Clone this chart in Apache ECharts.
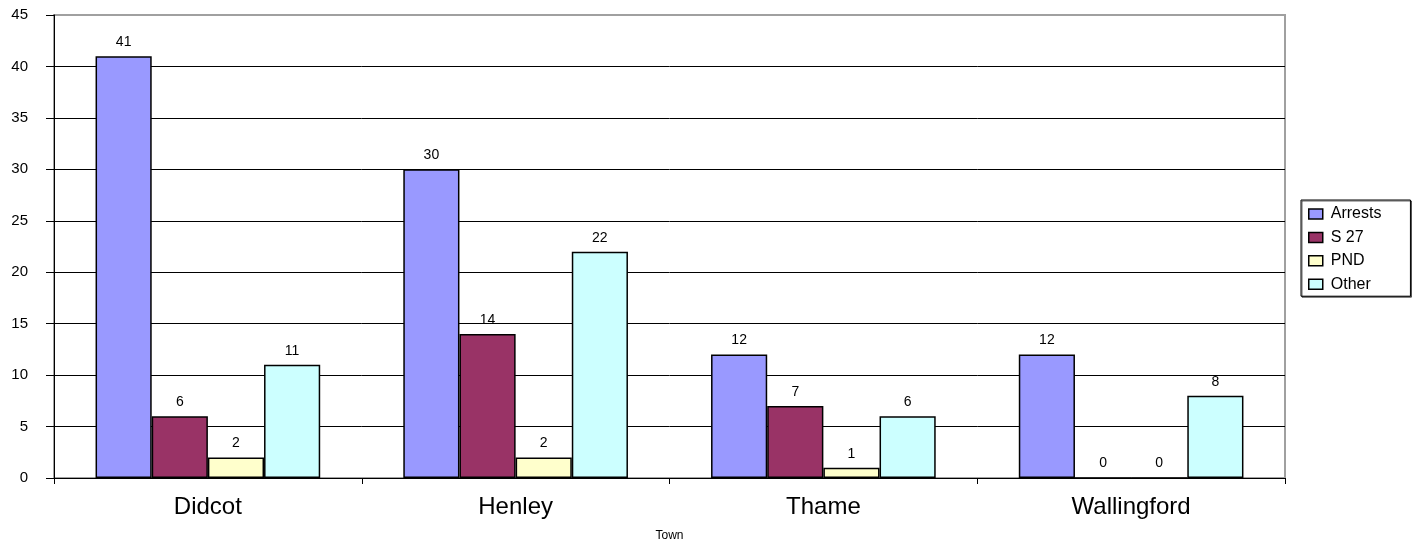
<!DOCTYPE html>
<html><head><meta charset="utf-8">
<script src="https://cdn.jsdelivr.net/npm/echarts@6/dist/echarts.min.js"></script>
<style>html,body{margin:0;padding:0;background:#fff}#c{width:1420px;height:547px}</style>
</head><body><div id="c"></div>
<script>
const categories = ['Didcot', 'Henley', 'Thame', 'Wallingford'];
const arrests = [41, 30, 12, 12];
const s27 = [6, 14, 7, 0];
const pnd = [2, 2, 1, 0];
const other = [11, 22, 6, 8];
const seriesNames = ['Arrests', 'S 27', 'PND', 'Other'];
const yTicks = [0, 5, 10, 15, 20, 25, 30, 35, 40, 45];

const colors = ['#9999FF', '#993366', '#FFFFCC', '#CCFFFF'];
const font = 'Liberation Sans, Arial, sans-serif';
const chart = echarts.init(document.getElementById('c'));
const mk = (name, data, i) => ({
  name, type: 'bar', data,
  barGap: '0%', barCategoryGap: '27%',
  itemStyle: { color: colors[i], borderColor: '#000', borderWidth: 1.5 },
  label: { show: true, position: 'top', distance: 7, color: '#000', fontSize: 14, fontFamily: font },
  animation: false
});
const splitColors = yTicks.map((v, i) => i === yTicks.length - 1 ? '#a0a0a0' : '#000');
chart.setOption({
  animation: false,
  grid: { left: 54, right: 135, top: 15, bottom: 65, show: true, borderColor: '#a0a0a0', borderWidth: 2, backgroundColor: 'transparent' },
  legend: {
    orient: 'vertical', left: 1301, top: 200, data: seriesNames,
    itemWidth: 14, itemHeight: 10, itemGap: 7.4,
    padding: [6, 29, 4, 7],
    borderColor: '#000', borderWidth: 1,
    shadowColor: 'rgba(0,0,0,0.6)', shadowOffsetX: 1, shadowOffsetY: 1,
    backgroundColor: '#fff',
    textStyle: { fontSize: 16, fontFamily: font, color: '#000', lineHeight: 14, padding: [0, 0, 0, 3] },
    itemStyle: { borderColor: '#000', borderWidth: 1.5 },
    icon: 'rect'
  },
  xAxis: {
    type: 'category', data: categories,
    axisLine: { lineStyle: { color: '#000', width: 1 } },
    axisTick: { show: true, length: 6, lineStyle: { color: '#000' } },
    axisLabel: { fontSize: 24, fontFamily: font, color: '#000', margin: 17 },
    name: 'Town', nameLocation: 'middle', nameGap: 52,
    nameTextStyle: { fontSize: 12, fontFamily: font, color: '#000' }
  },
  yAxis: {
    type: 'value', min: 0, max: 45, interval: 5,
    axisLine: { show: true, lineStyle: { color: '#000', width: 1 } },
    axisTick: { show: true, length: 8, lineStyle: { color: '#000' } },
    axisLabel: { fontSize: 15, fontFamily: font, color: '#000', margin: 26,
      formatter: v => yTicks.includes(v) ? String(v) : '' },
    splitLine: { show: true, lineStyle: { color: splitColors, width: 1 } }
  },
  series: [mk(seriesNames[0], arrests, 0), mk(seriesNames[1], s27, 1), mk(seriesNames[2], pnd, 2), mk(seriesNames[3], other, 3)]
});
</script></body></html>
